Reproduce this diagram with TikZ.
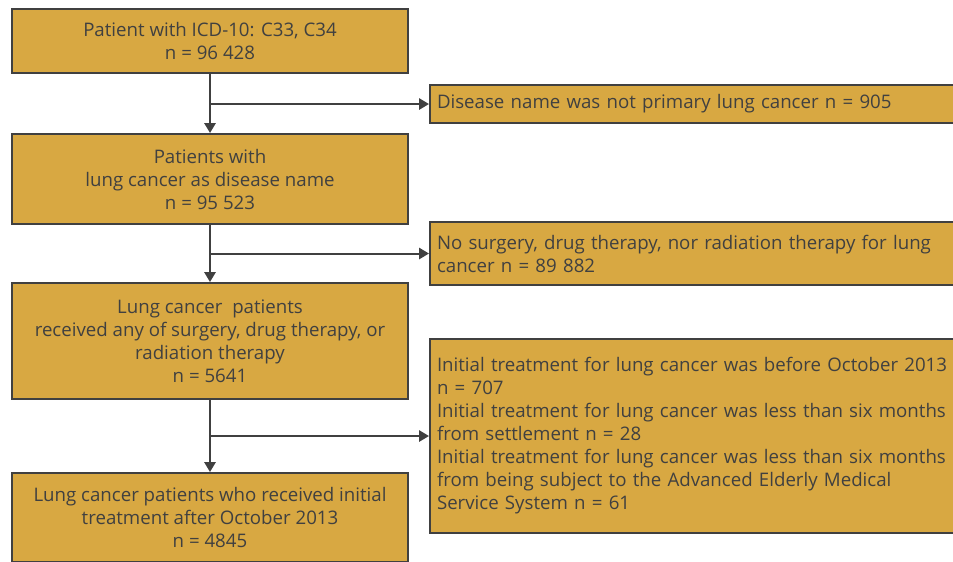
\documentclass[tikz,border=0pt]{standalone}
\usepackage{fontspec}
\setmainfont{Open Sans}
\usetikzlibrary{arrows.meta}
\definecolor{boxfill}{HTML}{D8A842}
\definecolor{ink}{HTML}{404040}
\begin{document}
\begin{tikzpicture}[x=0.75pt,y=-0.75pt,
  box/.style={draw=ink, line width=1.5pt, fill=boxfill, text=ink, inner sep=0pt,
    font=\fontsize{14}{17.25}\selectfont, minimum width=297pt},
  leftbox/.style={box, align=center},
  rightbox/.style={box, minimum width=405pt, text width=394.5pt, align=left},
  conn/.style={draw=ink, line width=1.5pt},
  arr/.style={conn, -{Triangle[length=7.5pt,width=8.5pt]}}]
\useasboundingbox (0,0) rectangle (953,561);
\clip (0,0) rectangle (953,561);
\node[leftbox, minimum height=48pt] (b1) at (210,41) {Patient with ICD-10: C33, C34\\n = 96 428};
\node[leftbox, minimum height=67.5pt] (b2) at (210,179) {Patients with\\lung cancer as disease name\\n = 95 523};
\node[leftbox, minimum height=87pt] (b3) at (210,341) {Lung cancer\ \ patients\\received any of surgery, drug therapy, or\\radiation therapy\\n = 5641};
\node[leftbox, minimum height=66.75pt] (b4) at (210,517.5) {Lung cancer patients who received initial\\treatment after October 2013\\n = 4845};
\node[rightbox, minimum height=28.5pt] (ra) at (700,104) {Disease name was not primary lung cancer n = 905};
\node[rightbox, minimum height=47.25pt] (rb) at (700,253.5) {No surgery, drug therapy, nor radiation therapy for lung\\cancer n = 89 882};
\node[rightbox, minimum height=145.5pt] (rc) at (700,436) {Initial treatment for lung cancer was before October 2013\\n = 707\\Initial treatment for lung cancer was less than six months\\from settlement n = 28\\Initial treatment for lung cancer was less than six months\\from being subject to the Advanced Elderly Medical\\Service System n = 61};
\draw[arr] (b1.south) -- (b2.north);
\draw[arr] (b2.south) -- (b3.north);
\draw[arr] (b3.south) -- (b4.north);
\draw[arr] (b1.south |- ra.west) -- (ra.west);
\draw[arr] (b2.south |- rb.west) -- (rb.west);
\draw[arr] (b3.south |- rc.west) -- (rc.west);
\end{tikzpicture}
\end{document}
